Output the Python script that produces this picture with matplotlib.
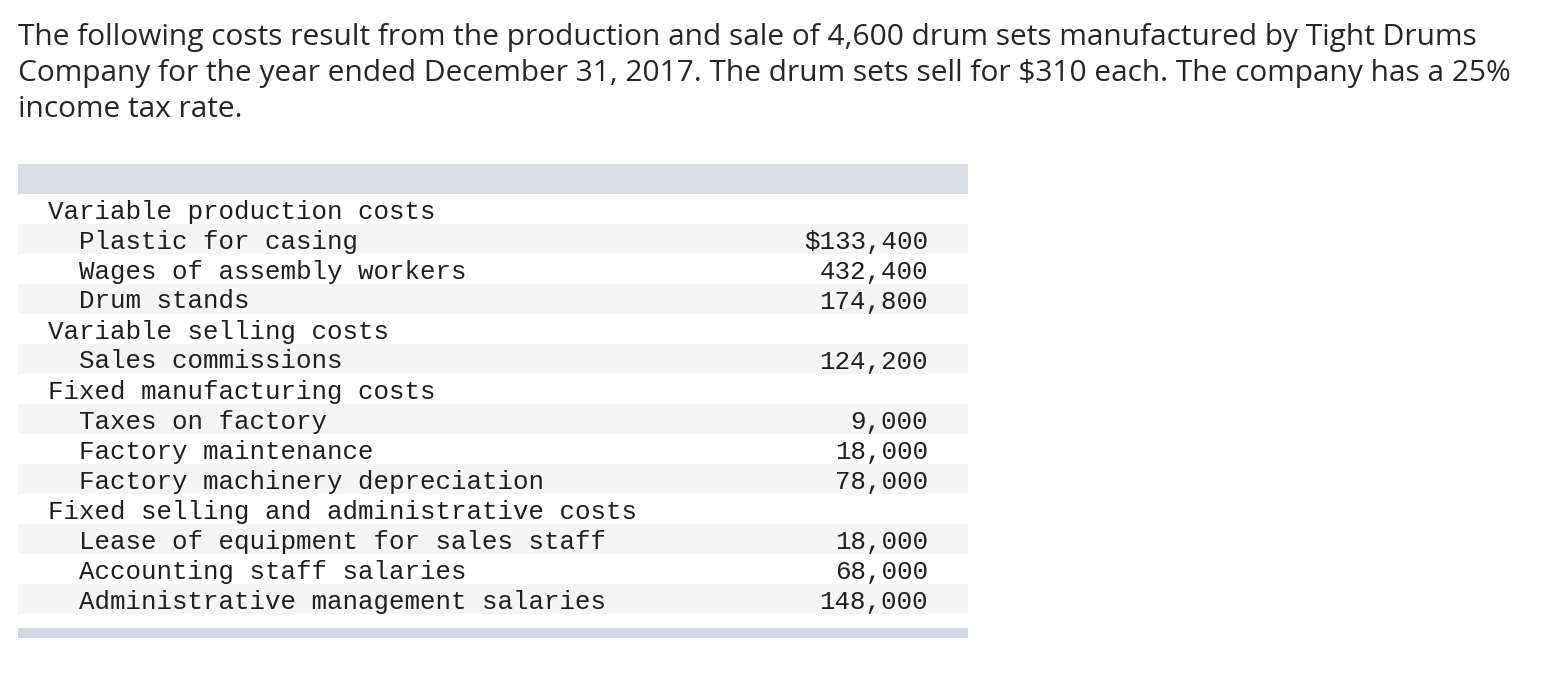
import matplotlib
matplotlib.use("Agg")
import matplotlib.pyplot as plt
from matplotlib.patches import Rectangle

# ---- data ----
intro_lines = [
    "The following costs result from the production and sale of 4,600 drum sets manufactured by Tight Drums",
    "Company for the year ended December 31, 2017. The drum sets sell for $310 each. The company has a 25%",
    "income tax rate.",
]
row_labels = [
    "Variable production costs",
    "Plastic for casing",
    "Wages of assembly workers",
    "Drum stands",
    "Variable selling costs",
    "Sales commissions",
    "Fixed manufacturing costs",
    "Taxes on factory",
    "Factory maintenance",
    "Factory machinery depreciation",
    "Fixed selling and administrative costs",
    "Lease of equipment for sales staff",
    "Accounting staff salaries",
    "Administrative management salaries",
]
row_indent = [0, 1, 1, 1, 0, 1, 0, 1, 1, 1, 0, 1, 1, 1]
row_values = ["", "$133,400", "432,400", "174,800", "", "124,200", "",
              "9,000", "18,000", "78,000", "", "18,000", "68,000", "148,000"]

W, H = 1562, 674
fig = plt.figure(figsize=(W / 100, H / 100), dpi=100)
ax = fig.add_axes([0, 0, 1, 1])
ax.set_xlim(0, W)
ax.set_ylim(H, 0)
ax.axis("off")

txt_color = "#262626"
sans = ["Open Sans", "Lato", "DejaVu Sans"]
mono = ["Liberation Mono", "DejaVu Sans Mono"]

# intro paragraph, size fitted so that the first line spans the same width
renderer = fig.canvas.get_renderer()
probe = ax.text(0, 0, intro_lines[0], fontsize=20, family=sans)
w = probe.get_window_extent(renderer).width
probe.remove()
title_size = 20 * (1479 - 18) / w

baselines = [45, 81, 117]
for line, yb in zip(intro_lines, baselines):
    ax.text(18, yb, line, fontsize=title_size, family=sans, color=txt_color,
            va="baseline", ha="left")

# table
x0, x1 = 18, 968
ax.add_patch(Rectangle((x0, 164), x1 - x0, 30, facecolor="#d9dde6", edgecolor="none"))
row_top = 194
row_h = 30
for i, (lab, ind, val) in enumerate(zip(row_labels, row_indent, row_values)):
    top = row_top + i * row_h
    if i % 2 == 1:
        ax.add_patch(Rectangle((x0, top), x1 - x0, row_h, facecolor="#f5f5f5", edgecolor="none"))
    yc = top + row_h / 2
    ax.text(48 + ind * 31, yc, lab, fontsize=18.65, family=mono, color="#1e1e1e",
            va="center_baseline", ha="left")
    if val:
        ax.text(928, yc, val, fontsize=18.65, family=mono, color="#1e1e1e",
                va="center_baseline", ha="right")

ax.add_patch(Rectangle((x0, 628), x1 - x0, 10, facecolor="#d2d8e3", edgecolor="none"))

fig.savefig("out.png", dpi=100, facecolor="white")
